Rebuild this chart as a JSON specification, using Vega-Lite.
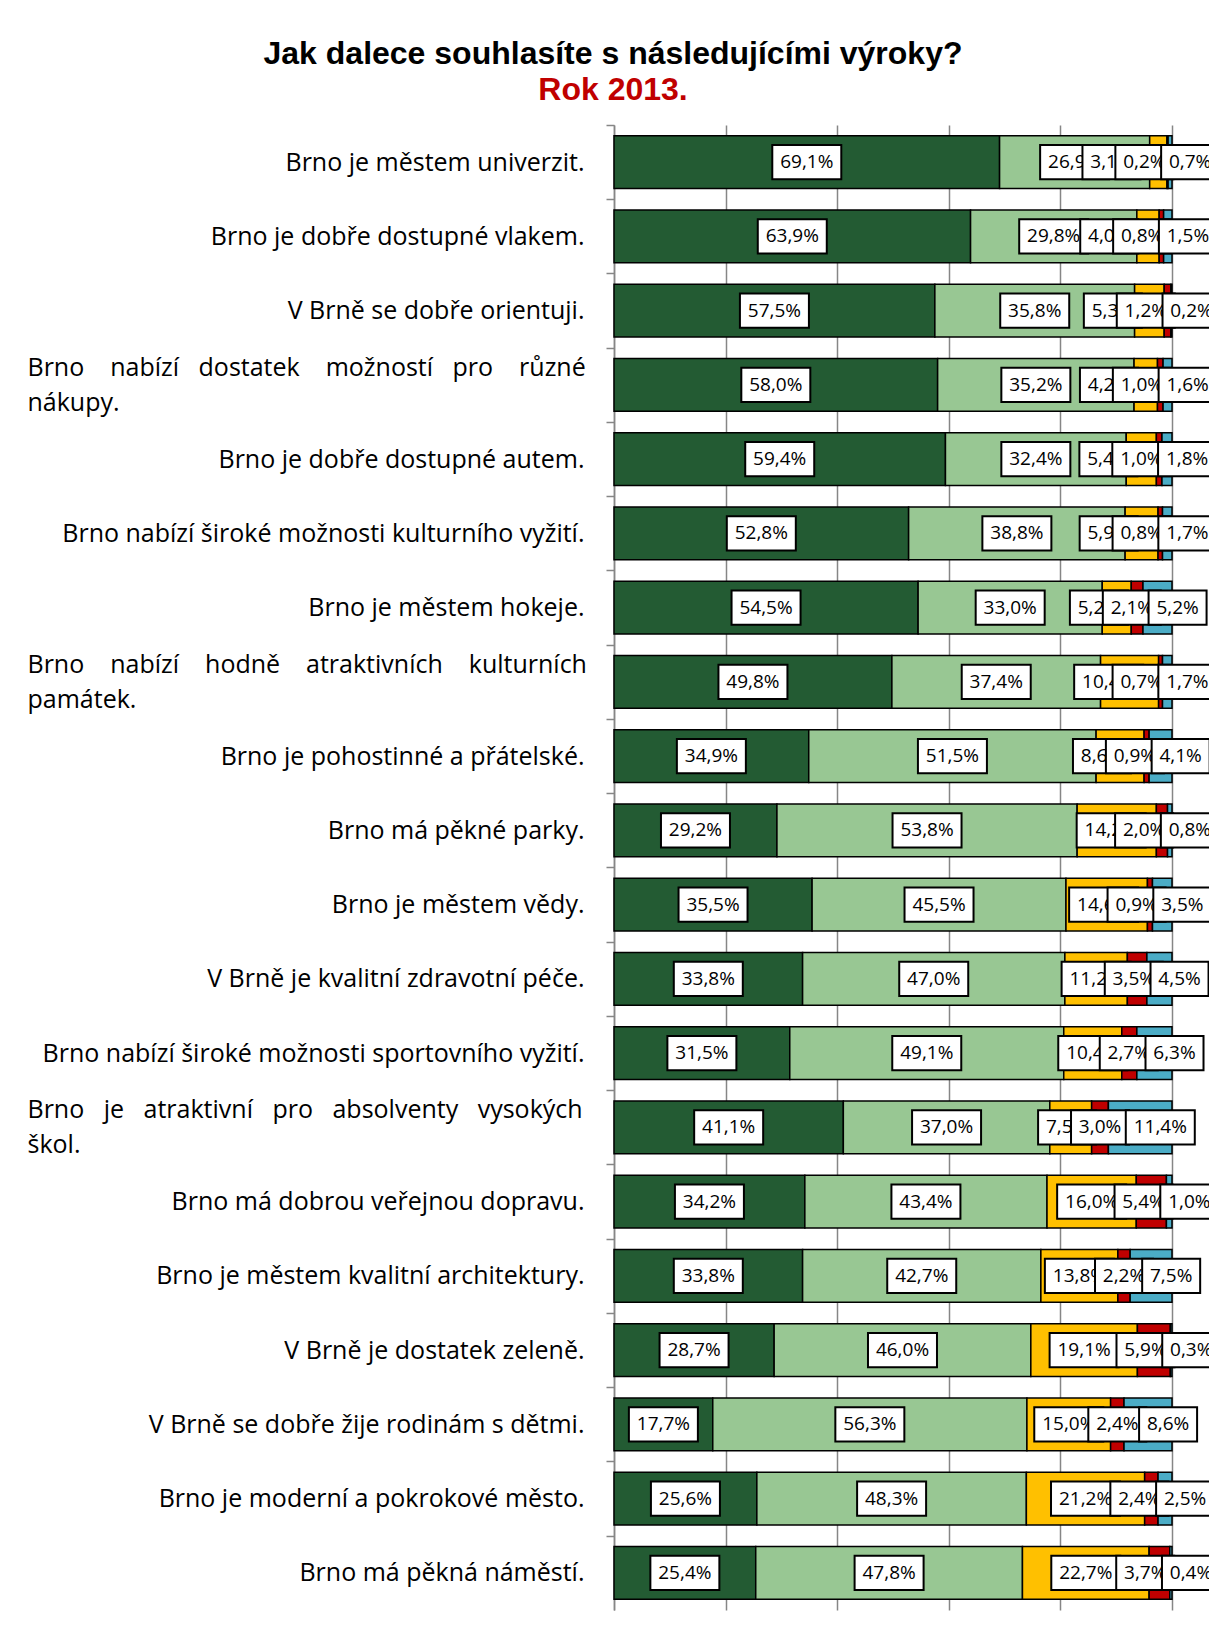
{
  "$schema": "https://vega.github.io/schema/vega-lite/v6.json",
  "autosize": {"type": "none"},
  "width": 558,
  "height": 1485,
  "padding": {"left": 614, "top": 125, "right": 37, "bottom": 36},
  "background": "white",
  "title": {
    "text": "Jak dalece souhlasíte s následujícími výroky?",
    "subtitle": "Rok 2013.",
    "anchor": "middle",
    "frame": "group",
    "dx": -280,
    "offset": 17,
    "font": "Liberation Sans",
    "fontSize": 32,
    "fontWeight": "bold",
    "color": "black",
    "subtitleFont": "Liberation Sans",
    "subtitleFontSize": 32,
    "subtitleFontWeight": "bold",
    "subtitleColor": "#C00000",
    "subtitlePadding": 4
  },
  "data": {
    "values": [
      {"q": "Brno je městem univerzit.", "strongly_agree": 69.1, "agree": 26.9, "disagree": 3.1, "strongly_disagree": 0.2, "dont_know": 0.7},
      {"q": "Brno je dobře dostupné vlakem.", "strongly_agree": 63.9, "agree": 29.8, "disagree": 4.0, "strongly_disagree": 0.8, "dont_know": 1.5},
      {"q": "V Brně se dobře orientuji.", "strongly_agree": 57.5, "agree": 35.8, "disagree": 5.3, "strongly_disagree": 1.2, "dont_know": 0.2},
      {"q": "Brno nabízí dostatek možností pro různé\nnákupy.", "strongly_agree": 58.0, "agree": 35.2, "disagree": 4.2, "strongly_disagree": 1.0, "dont_know": 1.6},
      {"q": "Brno je dobře dostupné autem.", "strongly_agree": 59.4, "agree": 32.4, "disagree": 5.4, "strongly_disagree": 1.0, "dont_know": 1.8},
      {"q": "Brno nabízí široké možnosti kulturního vyžití.", "strongly_agree": 52.8, "agree": 38.8, "disagree": 5.9, "strongly_disagree": 0.8, "dont_know": 1.7},
      {"q": "Brno je městem hokeje.", "strongly_agree": 54.5, "agree": 33.0, "disagree": 5.2, "strongly_disagree": 2.1, "dont_know": 5.2},
      {"q": "Brno nabízí hodně atraktivních kulturních\npamátek.", "strongly_agree": 49.8, "agree": 37.4, "disagree": 10.4, "strongly_disagree": 0.7, "dont_know": 1.7},
      {"q": "Brno je pohostinné a přátelské.", "strongly_agree": 34.9, "agree": 51.5, "disagree": 8.6, "strongly_disagree": 0.9, "dont_know": 4.1},
      {"q": "Brno má pěkné parky.", "strongly_agree": 29.2, "agree": 53.8, "disagree": 14.2, "strongly_disagree": 2.0, "dont_know": 0.8},
      {"q": "Brno je městem vědy.", "strongly_agree": 35.5, "agree": 45.5, "disagree": 14.6, "strongly_disagree": 0.9, "dont_know": 3.5},
      {"q": "V Brně je kvalitní zdravotní péče.", "strongly_agree": 33.8, "agree": 47.0, "disagree": 11.2, "strongly_disagree": 3.5, "dont_know": 4.5},
      {"q": "Brno nabízí široké možnosti sportovního vyžití.", "strongly_agree": 31.5, "agree": 49.1, "disagree": 10.4, "strongly_disagree": 2.7, "dont_know": 6.3},
      {"q": "Brno je atraktivní pro absolventy vysokých\nškol.", "strongly_agree": 41.1, "agree": 37.0, "disagree": 7.5, "strongly_disagree": 3.0, "dont_know": 11.4},
      {"q": "Brno má dobrou veřejnou dopravu.", "strongly_agree": 34.2, "agree": 43.4, "disagree": 16.0, "strongly_disagree": 5.4, "dont_know": 1.0},
      {"q": "Brno je městem kvalitní architektury.", "strongly_agree": 33.8, "agree": 42.7, "disagree": 13.8, "strongly_disagree": 2.2, "dont_know": 7.5},
      {"q": "V Brně je dostatek zeleně.", "strongly_agree": 28.7, "agree": 46.0, "disagree": 19.1, "strongly_disagree": 5.9, "dont_know": 0.3},
      {"q": "V Brně se dobře žije rodinám s dětmi.", "strongly_agree": 17.7, "agree": 56.3, "disagree": 15.0, "strongly_disagree": 2.4, "dont_know": 8.6},
      {"q": "Brno je moderní a pokrokové město.", "strongly_agree": 25.6, "agree": 48.3, "disagree": 21.2, "strongly_disagree": 2.4, "dont_know": 2.5},
      {"q": "Brno má pěkná náměstí.", "strongly_agree": 25.4, "agree": 47.8, "disagree": 22.7, "strongly_disagree": 3.7, "dont_know": 0.4}
    ]
  },
  "transform": [
    {"calculate": "max(datum.strongly_agree + datum.agree + datum.disagree + datum.strongly_disagree + datum.dont_know / 2, 103.6 - 0.5 * datum.dont_know)", "as": "posE"},
    {"calculate": "min(datum.strongly_agree + datum.agree + datum.disagree + datum.strongly_disagree / 2, datum.posE - 8.2)", "as": "posD"},
    {"calculate": "min(datum.strongly_agree + datum.agree + datum.disagree / 2, datum.posD - 5.9)", "as": "posC"},
    {"fold": ["strongly_agree", "agree", "disagree", "strongly_disagree", "dont_know"], "as": ["key", "value"]},
    {"calculate": "indexof(['strongly_agree', 'agree', 'disagree', 'strongly_disagree', 'dont_know'], datum.key)", "as": "k"},
    {"calculate": "datum.k == 0 ? datum.strongly_agree / 2 : datum.k == 1 ? datum.strongly_agree + datum.agree / 2 : datum.k == 2 ? datum.posC : datum.k == 3 ? datum.posD : datum.posE", "as": "lp"},
    {"calculate": "replace(format(datum.value, '.1f'), '.', ',') + '%'", "as": "label"}
  ],
  "encoding": {
    "y": {
      "field": "q",
      "type": "nominal",
      "sort": null,
      "scale": {"paddingInner": 0.29, "paddingOuter": 0.145},
      "axis": {
        "title": null,
        "domain": true,
        "domainColor": "#868686",
        "domainWidth": 1.5,
        "ticks": true,
        "tickColor": "#868686",
        "tickWidth": 1.5,
        "tickSize": 8,
        "bandPosition": 0,
        "tickOffset": -10.77,
        "grid": false,
        "labelExpr": "indexof(datum.label, '\\n') < 0 ? datum.label : [replace(replace(split(datum.label, '\\n')[0], regexp(' ', 'g'), indexof(datum.label, 'hodně') >= 0 ? ' \u00a0\u00a0\u00a0' : ' \u00a0\u00a0'), regexp('(Brno|dostatek|pro)( )', 'g'), indexof(datum.label, 'dostatek') >= 0 ? '$1$2\u00a0' : '$1$2'), split(datum.label, '\\n')[1]]",
        "labelFont": "Open Sans",
        "labelFontSize": 25,
        "labelColor": "black",
        "labelLimit": 0,
        "labelLineHeight": 35,
        "labelBaseline": "middle",
        "labelAlign": {"condition": {"test": "indexof(datum.value, '\\n') >= 0", "value": "left"}, "value": "right"},
        "labelPadding": {"condition": {"test": "indexof(datum.value, '\\n') >= 0", "value": 579}, "value": 22},
        "labelOffset": {"condition": {"test": "indexof(datum.value, '\\n') >= 0", "value": -6.73}, "value": 10.77},
        "labelOverlap": false
      }
    }
  },
  "layer": [
    {
      "mark": {"type": "bar", "stroke": "black", "strokeWidth": 1.5},
      "encoding": {
        "x": {
          "field": "value",
          "type": "quantitative",
          "stack": "zero",
          "scale": {"domain": [0, 100], "nice": false},
          "axis": {
            "title": null,
            "values": [0, 20, 40, 60, 80, 100],
            "grid": true,
            "gridColor": "#868686",
            "gridWidth": 1.5,
            "domain": false,
            "ticks": false,
            "labels": false
          }
        },
        "color": {
          "field": "key",
          "type": "nominal",
          "scale": {
            "domain": ["strongly_agree", "agree", "disagree", "strongly_disagree", "dont_know"],
            "range": ["#235B33", "#98C793", "#FFC000", "#C00000", "#4BACC6"]
          },
          "legend": null
        },
        "order": {"field": "k", "type": "quantitative"}
      }
    },
    {
      "transform": [{"filter": "datum.k <= 1"}],
      "mark": {"type": "point", "filled": true, "fill": "white", "stroke": "black", "strokeWidth": 2, "opacity": 1, "size": 4761},
      "encoding": {
        "x": {"field": "lp", "type": "quantitative", "stack": null},
        "shape": {"condition": {"test": "length(datum.label) > 4", "value": "M-1,-0.4928L1,-0.4928L1,0.4928L-1,0.4928Z"}, "value": "M-0.8406,-0.4928L0.8406,-0.4928L0.8406,0.4928L-0.8406,0.4928Z"}
      }
    },
    {
      "transform": [{"filter": "datum.k <= 1"}],
      "mark": {"type": "text", "font": "Open Sans", "fontSize": 19, "color": "black", "align": "center", "baseline": "middle"},
      "encoding": {
        "x": {"field": "lp", "type": "quantitative", "stack": null},
        "text": {"field": "label"}
      }
    },
    {
      "transform": [{"filter": "datum.k == 2"}],
      "mark": {"type": "point", "filled": true, "fill": "white", "stroke": "black", "strokeWidth": 2, "opacity": 1, "size": 4761},
      "encoding": {
        "x": {"field": "lp", "type": "quantitative", "stack": null},
        "shape": {"condition": {"test": "length(datum.label) > 4", "value": "M-1,-0.4928L1,-0.4928L1,0.4928L-1,0.4928Z"}, "value": "M-0.8406,-0.4928L0.8406,-0.4928L0.8406,0.4928L-0.8406,0.4928Z"}
      }
    },
    {
      "transform": [{"filter": "datum.k == 2"}],
      "mark": {"type": "text", "font": "Open Sans", "fontSize": 19, "color": "black", "align": "center", "baseline": "middle"},
      "encoding": {
        "x": {"field": "lp", "type": "quantitative", "stack": null},
        "text": {"field": "label"}
      }
    },
    {
      "transform": [{"filter": "datum.k == 3"}],
      "mark": {"type": "point", "filled": true, "fill": "white", "stroke": "black", "strokeWidth": 2, "opacity": 1, "size": 4761},
      "encoding": {
        "x": {"field": "lp", "type": "quantitative", "stack": null},
        "shape": {"condition": {"test": "length(datum.label) > 4", "value": "M-1,-0.4928L1,-0.4928L1,0.4928L-1,0.4928Z"}, "value": "M-0.8406,-0.4928L0.8406,-0.4928L0.8406,0.4928L-0.8406,0.4928Z"}
      }
    },
    {
      "transform": [{"filter": "datum.k == 3"}],
      "mark": {"type": "text", "font": "Open Sans", "fontSize": 19, "color": "black", "align": "center", "baseline": "middle"},
      "encoding": {
        "x": {"field": "lp", "type": "quantitative", "stack": null},
        "text": {"field": "label"}
      }
    },
    {
      "transform": [{"filter": "datum.k == 4"}],
      "mark": {"type": "point", "filled": true, "fill": "white", "stroke": "black", "strokeWidth": 2, "opacity": 1, "size": 4761},
      "encoding": {
        "x": {"field": "lp", "type": "quantitative", "stack": null},
        "shape": {"condition": {"test": "length(datum.label) > 4", "value": "M-1,-0.4928L1,-0.4928L1,0.4928L-1,0.4928Z"}, "value": "M-0.8406,-0.4928L0.8406,-0.4928L0.8406,0.4928L-0.8406,0.4928Z"}
      }
    },
    {
      "transform": [{"filter": "datum.k == 4"}],
      "mark": {"type": "text", "font": "Open Sans", "fontSize": 19, "color": "black", "align": "center", "baseline": "middle"},
      "encoding": {
        "x": {"field": "lp", "type": "quantitative", "stack": null},
        "text": {"field": "label"}
      }
    }
  ],
  "config": {
    "view": {"stroke": null}
  }
}
